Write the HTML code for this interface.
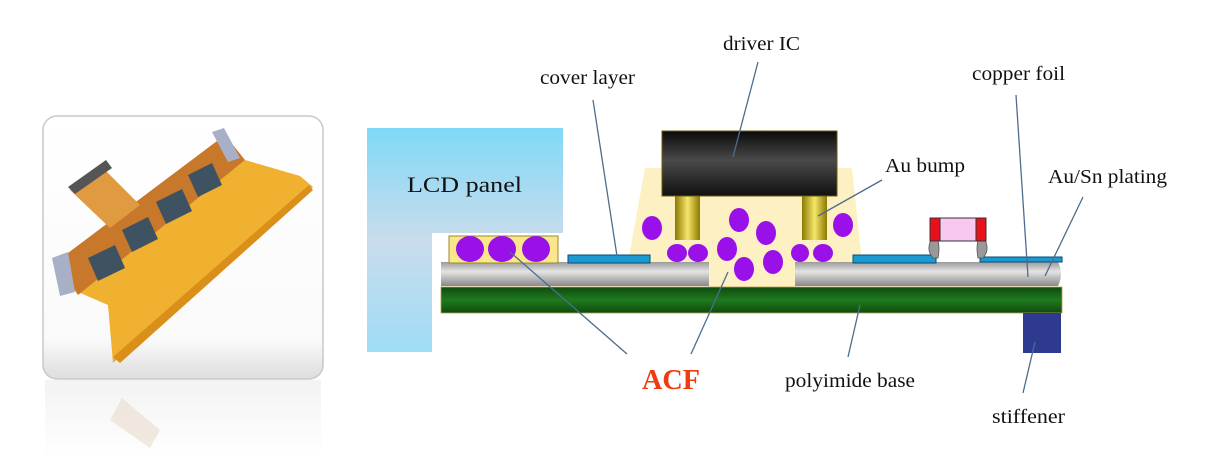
<!DOCTYPE html>
<html><head><meta charset="utf-8"><style>
html,body{margin:0;padding:0;background:#fff;width:1206px;height:473px;overflow:hidden}
svg text{font-family:"Liberation Serif",serif;fill:#111}
</style></head><body>
<svg width="1206" height="473" viewBox="0 0 1206 473" xmlns="http://www.w3.org/2000/svg">
<defs>
<linearGradient id="lcd" x1="0" y1="0" x2="0" y2="1"><stop offset="0" stop-color="#7fd9f8"/><stop offset="0.5" stop-color="#c9dcec"/><stop offset="1" stop-color="#9fdcf6"/></linearGradient>
<linearGradient id="ic" x1="0" y1="0" x2="0" y2="1"><stop offset="0" stop-color="#0a0a0a"/><stop offset="0.45" stop-color="#4a4a4a"/><stop offset="1" stop-color="#111"/></linearGradient>
<linearGradient id="au" x1="0" y1="0" x2="1" y2="0"><stop offset="0" stop-color="#8a7a00"/><stop offset="0.5" stop-color="#f5e66a"/><stop offset="1" stop-color="#8a7a00"/></linearGradient>
<linearGradient id="cu" x1="0" y1="0" x2="0" y2="1"><stop offset="0" stop-color="#9a9a9a"/><stop offset="0.4" stop-color="#e4e4e4"/><stop offset="1" stop-color="#888"/></linearGradient>
<linearGradient id="pi" x1="0" y1="0" x2="0" y2="1"><stop offset="0" stop-color="#0e4a0e"/><stop offset="0.5" stop-color="#1f7a1f"/><stop offset="1" stop-color="#0e4a0e"/></linearGradient>
<linearGradient id="fr" x1="0" y1="0" x2="0" y2="1"><stop offset="0" stop-color="#fff"/><stop offset="0.85" stop-color="#fafafa"/><stop offset="1" stop-color="#ddd"/></linearGradient>
<linearGradient id="refl" x1="0" y1="0" x2="0" y2="1"><stop offset="0" stop-color="#eee"/><stop offset="1" stop-color="#fff"/></linearGradient>
</defs>

<rect x="43" y="116" width="280" height="263" rx="14" fill="url(#fr)" stroke="#c8c8c8" stroke-width="1.5"/>
<rect x="45" y="380" width="276" height="80" fill="url(#refl)" opacity="0.7"/>
<path d="M110 420 L122 398 L160 430 L150 448 Z" fill="#eadccc" opacity="0.6"/>
<polygon points="78,292 245,160 300,176 313,187 113,363 108,305" fill="#f0b030"/>
<polygon points="113,357 120,363 313,190 309,185" fill="#d98f1a"/>
<polygon points="56,262 225,135 245,160 78,295" fill="#c8782a"/>
<polygon points="70,190 110,228 140,205 100,165" fill="#e09a40"/>
<polygon points="68,187 75,194 112,168 106,160" fill="#555"/>
<polygon points="52,258 60,296 75,292 68,252" fill="#a8b0c8"/>
<polygon points="212,132 224,128 240,158 228,162" fill="#a8b0c8"/>
<g fill="#3e5262">
<polygon points="88,258 115,245 125,268 98,281"/>
<polygon points="122,230 148,217 158,239 132,252"/>
<polygon points="156,202 182,189 192,211 166,224"/>
<polygon points="188,175 212,163 222,185 198,197"/>
</g>

<polygon points="367,128 563,128 563,233 432,233 432,352 367,352" fill="url(#lcd)"/>
<text x="407" y="192" font-size="22" textLength="115" lengthAdjust="spacingAndGlyphs">LCD panel</text>

<polygon points="645,168 852,168 862,262 795,262 795,287 709,287 709,262 628,262" fill="#fdf1c4"/>
<rect x="441" y="287" width="621" height="26" fill="url(#pi)" stroke="#b5a050" stroke-width="0.8"/>
<rect x="441" y="262" width="268" height="24" fill="url(#cu)"/>
<path d="M795 262 H1058 Q1064 274 1058 286 H795 Z" fill="url(#cu)"/>
<rect x="1023" y="313" width="38" height="40" fill="#2e3a90"/>
<rect x="568" y="255" width="82" height="8" fill="#1a9ad0" stroke="#0a4a7a"/>
<rect x="853" y="255" width="83" height="8" fill="#1a9ad0" stroke="#0a4a7a"/>
<rect x="980" y="257" width="82" height="5" fill="#1a9ad0" stroke="#0a4a7a"/>
<rect x="675" y="196" width="25" height="44" fill="url(#au)"/>
<rect x="802" y="196" width="25" height="44" fill="url(#au)"/>
<rect x="662" y="131" width="175" height="65" fill="url(#ic)" stroke="#6a5a10"/>
<rect x="449" y="236" width="109" height="27" fill="#fbe78a" stroke="#9a8a30"/>
<g fill="#9a10e8">
<ellipse cx="470" cy="249" rx="14" ry="13"/><ellipse cx="502" cy="249" rx="14" ry="13"/><ellipse cx="536" cy="249" rx="14" ry="13"/>
<ellipse cx="652" cy="228" rx="10" ry="12"/><ellipse cx="677" cy="253" rx="10" ry="9"/><ellipse cx="698" cy="253" rx="10" ry="9"/>
<ellipse cx="739" cy="220" rx="10" ry="12"/><ellipse cx="766" cy="233" rx="10" ry="12"/><ellipse cx="727" cy="249" rx="10" ry="12"/>
<ellipse cx="744" cy="269" rx="10" ry="12"/><ellipse cx="773" cy="262" rx="10" ry="12"/><ellipse cx="800" cy="253" rx="9" ry="9"/>
<ellipse cx="823" cy="253" rx="10" ry="9"/><ellipse cx="843" cy="225" rx="10" ry="12"/>
</g>
<path d="M931 240 Q926 250 933 258 L938 258 Q940 248 938 240 Z" fill="#999" stroke="#555" stroke-width="0.8"/>
<path d="M985 240 Q990 250 983 258 L978 258 Q976 248 978 240 Z" fill="#999" stroke="#555" stroke-width="0.8"/>
<rect x="930" y="218" width="56" height="23" fill="#f8c8f0" stroke="#333"/>
<rect x="930" y="218" width="10" height="23" fill="#e8101a" stroke="#333"/>
<rect x="976" y="218" width="10" height="23" fill="#e8101a" stroke="#333"/>

<g stroke="#4d6d8d" stroke-width="1.3" fill="none">
<line x1="593" y1="100" x2="617" y2="256"/>
<line x1="758" y1="62" x2="733" y2="157"/>
<line x1="1016" y1="95" x2="1028" y2="277"/>
<line x1="1083" y1="197" x2="1045" y2="276"/>
<line x1="882" y1="180" x2="818" y2="216"/>
<line x1="627" y1="354" x2="510" y2="252"/>
<line x1="691" y1="354" x2="728" y2="272"/>
<line x1="848" y1="357" x2="860" y2="305"/>
<line x1="1023" y1="393" x2="1035" y2="342"/>
</g>

<text x="723" y="50" font-size="20" textLength="77" lengthAdjust="spacingAndGlyphs">driver IC</text>
<text x="540" y="84" font-size="20" textLength="95" lengthAdjust="spacingAndGlyphs">cover layer</text>
<text x="972" y="80" font-size="20" textLength="93" lengthAdjust="spacingAndGlyphs">copper foil</text>
<text x="885" y="172" font-size="20" textLength="80" lengthAdjust="spacingAndGlyphs">Au bump</text>
<text x="1048" y="183" font-size="20" textLength="119" lengthAdjust="spacingAndGlyphs">Au/Sn plating</text>
<text x="642" y="389" font-size="28" font-weight="bold" style="fill:#f03a10" textLength="58" lengthAdjust="spacingAndGlyphs">ACF</text>
<text x="785" y="387" font-size="20" textLength="130" lengthAdjust="spacingAndGlyphs">polyimide base</text>
<text x="992" y="423" font-size="20" textLength="73" lengthAdjust="spacingAndGlyphs">stiffener</text>
</svg>
</body></html>
